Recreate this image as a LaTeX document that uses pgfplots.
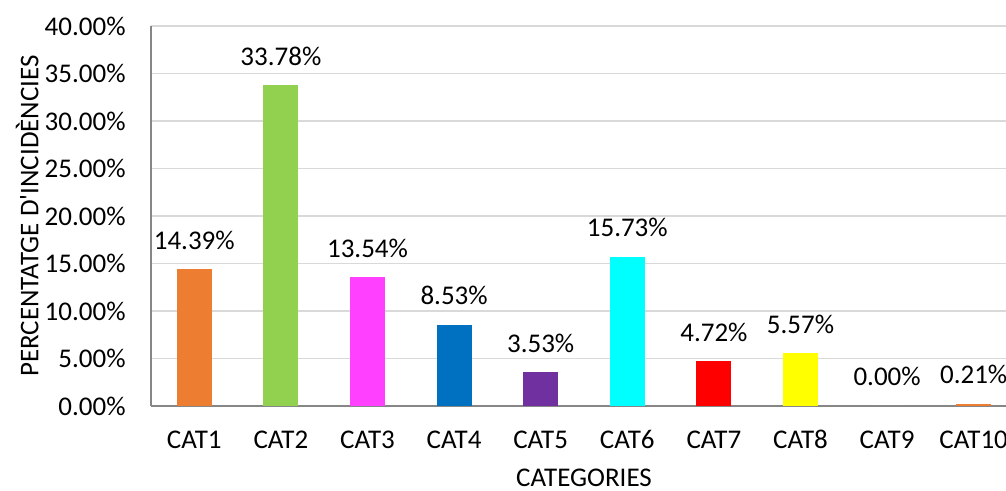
\documentclass[border=0pt]{standalone}
\usepackage{pgfplots}
\pgfplotsset{compat=1.18}
\usepackage{fontspec}
\setmainfont{Carlito}

\definecolor{c1}{HTML}{ED7D31}
\definecolor{c2}{HTML}{92D050}
\definecolor{c3}{HTML}{FF40FF}
\definecolor{c4}{HTML}{0070C0}
\definecolor{c5}{HTML}{7030A0}
\definecolor{c6}{HTML}{00FFFF}
\definecolor{c7}{HTML}{FF0000}
\definecolor{c8}{HTML}{FFFF00}
\definecolor{c9}{HTML}{A5A5A5}
\definecolor{c10}{HTML}{ED7D31}
\definecolor{axisgray}{HTML}{868686}
\definecolor{gridgray}{HTML}{D9D9D9}

\begin{document}
\fontsize{13.5pt}{16pt}\selectfont
\begin{tikzpicture}
\begin{axis}[
  at={(0pt,0pt)}, anchor=south west,
  scale only axis, width=433pt, height=190pt,
  /pgf/number format/assume math mode=true,
  font=\fontsize{13.5pt}{16pt}\selectfont,
  xmin=-0.5, xmax=9.5, ymin=0, ymax=40,
  ytick={0,5,...,40},
  yticklabel={\pgfmathprintnumber[fixed,fixed zerofill,precision=2]{\tick}\%},
  xtick={0,...,9},
  xticklabels={CAT1,CAT2,CAT3,CAT4,CAT5,CAT6,CAT7,CAT8,CAT9,CAT10},
  major tick length=0pt,
  axis x line*=bottom, axis y line*=left,
  axis line style={axisgray, line width=0.6pt, -},
  ymajorgrids, grid style={gridgray, line width=0.6pt},
  yticklabel style={anchor=east, inner sep=0pt, xshift=-12.5pt},
  xticklabel style={anchor=base, inner sep=0pt, yshift=-21.5pt},
  xlabel={CATEGORIES},
  xlabel style={at={(axis description cs:0.5,0)}, anchor=base, inner sep=0pt, yshift=-40.5pt},
  ylabel={PERCENTATGE D\textquotesingle INCIDÈNCIES},
  ylabel style={at={(axis description cs:-0.143,0.5)}, anchor=center, inner sep=0pt},
  ybar, bar width=17.5pt, bar shift=0pt,
  nodes near coords={\pgfmathprintnumber[fixed,fixed zerofill,precision=2]{\pgfplotspointmeta}\%},
  nodes near coords style={anchor=base, inner sep=0pt, yshift=10pt, black},
  clip=false,
]
\addplot[fill=c1, draw=none] coordinates {(0,14.39)};
\addplot[fill=c2, draw=none] coordinates {(1,33.78)};
\addplot[fill=c3, draw=none] coordinates {(2,13.54)};
\addplot[fill=c4, draw=none] coordinates {(3,8.53)};
\addplot[fill=c5, draw=none] coordinates {(4,3.53)};
\addplot[fill=c6, draw=none] coordinates {(5,15.73)};
\addplot[fill=c7, draw=none] coordinates {(6,4.72)};
\addplot[fill=c8, draw=none] coordinates {(7,5.57)};
\addplot[fill=c9, draw=none] coordinates {(8,0.00)};
\addplot[fill=c10, draw=none] coordinates {(9,0.21)};
\end{axis}
\pgfresetboundingbox
\path[use as bounding box] (-75.5pt,-42.5pt) rectangle (427.5pt,203pt);
\end{tikzpicture}
\end{document}
